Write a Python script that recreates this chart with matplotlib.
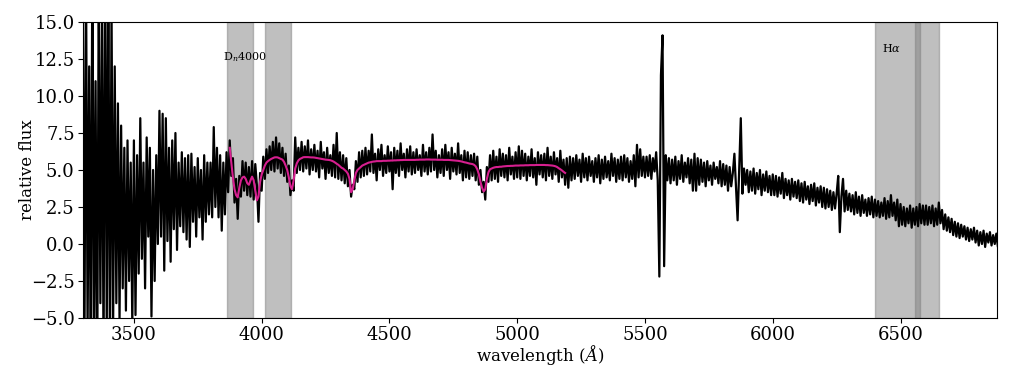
import numpy as np
import matplotlib
matplotlib.use("Agg")
import matplotlib.pyplot as plt

# ---- data ----
wave_start = 3300.0
wave_step = 6.25

flux_uv = [  # 3300-3700
    16, -8, 19, -6, 12, -9, 20, -7, 11, -10, 18, -4, 15, -8, 21, -6,
    18, -8, 16, -5.5, 12, -4, 9.5, -5.2, 8, -3, 6.5, -4.5, 7, -2.5, 5.5, -5.5,
    7, -4.8, 6, -2, 8.5, -1, 5.5, -3, 7.2, 0.5, 6.5, -4.9, 5, -2.5, 6.0, 0.0,
    9.0, 0.5, 8.8, -1.8, 8.5, 0.2, 6.5, -1.2, 7.0, 1.0, 7.5, -0.4, 5.5, 1.2, 6.2, 0.8,
]
flux_dn4000 = [  # 3700-4200
    5.8, 0.3, 6.0, -0.2, 6.1, 1.5, 5.2, 0.5, 5.8, 1.8, 5.0, 0.3, 6.0, 1.5, 5.5, 2.0,
    5.5, 1.8, 7.9, 2.5, 6.5, 1.8, 6.0, 0.9, 5.5, 2.0, 6.2, 3.5, 7.0, 4.6, 5.8, 2.8,
    4.4, 1.7, 4.6, 3.2, 5.6, 3.6, 5.5, 3.3, 5.2, 3.2, 5.6, 3.0, 5.4, 4.0, 1.5, 4.8,
    3.6, 5.9, 4.4, 6.4, 4.8, 6.6, 5.0, 6.9, 4.9, 7.2, 5.1, 6.8, 4.8, 6.5, 4.6, 6.1,
    4.2, 5.3, 3.3, 4.3, 3.6, 7.2, 4.8, 6.5, 5.0, 6.9, 4.9, 6.6, 5.1, 7.0, 4.7, 6.4,
]
flux_blue = [  # 4200-5200
    5.0, 6.7, 4.9, 6.3, 4.5, 6.9, 5.1, 6.2, 4.4, 6.5, 4.8, 6.0, 4.6, 6.7, 4.5, 7.5,
    4.4, 6.2, 4.3, 6.0, 4.1, 5.8, 3.9, 5.0, 3.2, 4.0, 3.7, 5.6, 4.2, 6.2, 4.5, 6.3,
    4.6, 6.5, 4.7, 6.3, 4.9, 7.4, 4.8, 6.1, 4.3, 6.4, 5.0, 6.7, 4.6, 6.0, 4.8, 6.6,
    4.9, 6.2, 3.7, 6.5, 4.8, 6.3, 4.6, 6.8, 5.0, 6.1, 4.5, 6.4, 4.9, 6.6, 4.7, 6.2,
    4.8, 6.4, 5.0, 6.0, 4.6, 6.7, 4.9, 6.2, 4.7, 6.5, 4.9, 7.4, 5.0, 6.3, 4.5, 6.0,
    4.8, 6.4, 4.6, 6.7, 5.0, 6.2, 4.4, 6.5, 4.9, 6.1, 4.7, 6.8, 4.8, 6.0, 4.3, 6.3,
    4.5, 6.2, 4.4, 6.0, 4.6, 6.1, 4.3, 5.9, 4.0, 5.0, 3.5, 4.2, 3.0, 5.2, 4.2, 6.0,
    4.3, 6.3, 4.4, 5.9, 4.2, 6.4, 4.6, 6.1, 4.5, 6.0, 4.3, 6.5, 4.7, 5.9, 4.4, 6.2,
    4.5, 6.6, 4.4, 6.3, 4.6, 6.1, 4.3, 5.9, 4.6, 6.4, 4.5, 5.8, 4.0, 6.2, 4.7, 6.0,
    4.5, 6.1, 4.3, 6.5, 4.6, 5.9, 4.4, 6.2, 4.7, 5.8, 4.2, 6.3, 4.5, 5.7, 4.0, 5.8,
]
flux_green = [  # 5200-6000
    3.8, 5.9, 4.3, 5.8, 4.4, 6.0, 4.6, 5.7, 4.2, 6.1, 4.5, 5.8, 4.3, 5.9, 4.6, 5.6,
    4.2, 5.8, 4.5, 6.0, 4.1, 5.7, 4.4, 5.9, 4.5, 5.6, 4.3, 6.1, 4.6, 5.8, 4.2, 5.7,
    4.4, 5.9, 4.3, 6.0, 4.5, 5.8, 4.2, 5.6, 4.4, 6.0, 3.9, 6.7, 4.5, 6.4, 4.6, 5.9,
    4.5, 5.9, 4.6, 6.0, 4.4, 5.8, 4.9, 6.2, 4.3, -2.2, 11.4, 14.1, -1.5, 6.0, 4.3, 5.8,
    4.1, 5.7, 4.3, 5.9, 4.0, 5.6, 4.4, 6.0, 4.2, 5.5, 4.5, 5.8, 4.1, 5.7, 3.6, 6.1,
    3.6, 5.8, 4.0, 5.7, 4.2, 5.5, 3.9, 5.6, 4.3, 5.3, 4.0, 5.5, 4.4, 5.2, 4.1, 5.6,
    3.9, 5.4, 4.0, 5.3, 3.6, 5.2, 3.9, 4.8, 6.1, 3.8, 1.6, 5.0, 8.5, 3.4, 5.1, 4.0,
    5.0, 3.5, 4.9, 3.6, 5.1, 3.4, 4.8, 3.7, 5.0, 3.3, 4.7, 3.6, 4.9, 3.5, 4.6, 3.3,
]
flux_red = [  # 6000-6900
    4.7, 3.3, 4.6, 3.2, 4.5, 3.4, 4.8, 3.1, 4.4, 3.3, 4.3, 3.0, 4.4, 3.2, 4.2, 3.1,
    4.3, 2.9, 4.1, 2.8, 4.2, 3.0, 3.9, 2.7, 4.0, 2.9, 4.1, 2.6, 3.8, 2.8, 3.9, 2.5,
    3.8, 2.4, 3.7, 2.5, 3.6, 2.3, 3.5, 2.4, 3.4, 4.6, 0.8, 3.2, 4.4, 2.2, 3.6, 2.3,
    3.4, 2.2, 3.3, 2.0, 3.5, 2.1, 3.2, 1.9, 3.3, 2.1, 3.0, 1.9, 3.1, 2.0, 3.2, 1.8,
    3.0, 1.9, 2.9, 1.8, 2.8, 1.9, 3.1, 1.7, 2.9, 1.8, 3.3, 1.9, 2.8, 1.6, 3.0, 1.2,
    2.7, 1.3, 2.5, 1.2, 2.4, 1.4, 2.6, 1.1, 2.4, 1.3, 2.5, 1.2, 2.7, 1.4, 2.6, 1.3,
    2.6, 1.3, 2.5, 1.4, 2.6, 1.2, 2.4, 1.3, 2.8, 1.4, 2.3, 1.0, 2.0, 0.9, 1.8, 0.8,
    1.7, 0.6, 1.5, 0.5, 1.4, 0.4, 1.3, 0.5, 1.2, 0.3, 1.1, 0.2, 1.0, 0.3, 1.1, 0.1,
    0.9, -0.1, 0.8, 0.0, 0.9, -0.2, 0.7, 0.1, 0.8, -0.1, 0.6, 0.0, 0.7, -0.2, 0.5, 0.1,
]

model_start = 3875.0
model_flux = [
    6.5, 5.5, 4.5, 3.7, 3.3, 3.15, 3.8, 4.3, 4.5, 4.55, 4.4, 4.1, 4.0, 4.3, 4.55, 4.3, 3.6, 2.95, 3.2, 4.2,
    4.7, 5.0, 5.3, 5.5, 5.6, 5.68, 5.75, 5.8, 5.85, 5.86, 5.85, 5.8, 5.75, 5.7, 5.55, 5.3,
    5.0, 4.5, 3.9, 3.7, 4.3, 5.1, 5.45, 5.65, 5.75, 5.8, 5.86, 5.87, 5.87, 5.87, 5.86, 5.85,
    5.85, 5.84, 5.82, 5.8, 5.78, 5.76, 5.74, 5.72, 5.7, 5.69, 5.68, 5.66, 5.62, 5.57, 5.5, 5.42,
    5.35, 5.25, 5.15, 5.1, 5.0, 4.9, 4.75, 4.4, 3.5, 3.7, 4.3, 4.8, 5.0, 5.1, 5.2, 5.3,
    5.35, 5.4, 5.45, 5.5, 5.52, 5.55, 5.57, 5.58, 5.6, 5.6, 5.6, 5.6, 5.62, 5.62, 5.62, 5.63,
    5.63, 5.64, 5.64, 5.65, 5.65, 5.66, 5.66, 5.67, 5.67, 5.68, 5.68, 5.68, 5.68, 5.68, 5.68, 5.68,
    5.68, 5.69, 5.69, 5.7, 5.7, 5.7, 5.7, 5.71, 5.71, 5.71, 5.7, 5.7, 5.7, 5.7, 5.69, 5.69,
    5.69, 5.69, 5.68, 5.68, 5.68, 5.68, 5.67, 5.66, 5.65, 5.64, 5.63, 5.62, 5.6, 5.58, 5.55, 5.52,
    5.5, 5.47, 5.44, 5.42, 5.4, 5.35, 5.25, 5.05, 4.7, 4.2, 3.8, 3.55, 3.7, 4.4, 4.85, 5.05,
    5.1, 5.15, 5.18, 5.2, 5.2, 5.22, 5.22, 5.24, 5.25, 5.26, 5.27, 5.27, 5.28, 5.28, 5.29, 5.3,
    5.3, 5.3, 5.31, 5.31, 5.31, 5.32, 5.32, 5.32, 5.33, 5.33, 5.33, 5.33, 5.34, 5.34, 5.34, 5.34,
    5.34, 5.34, 5.33, 5.33, 5.32, 5.31, 5.3, 5.28, 5.25, 5.2, 5.12, 5.05, 4.97, 4.88, 4.8,
]

dn4000_bands = [(3866, 3965), (4014, 4113)]
halpha_bands = [(6402, 6652), (6558, 6578)]
xlim = (3301, 6876)
ylim = (-5, 15)

# ---- figure ----
plt.rcParams['font.family'] = ['DejaVu Serif']
plt.rcParams['mathtext.fontset'] = 'dejavuserif'

flux = np.array(flux_uv + flux_dn4000 + flux_blue + flux_green + flux_red, dtype=float)
wave = wave_start + wave_step * np.arange(len(flux))
mflux = np.array(model_flux, dtype=float)
mwave = model_start + wave_step * np.arange(len(mflux))

fig, ax = plt.subplots(figsize=(10.19, 3.71), dpi=100)
fig.subplots_adjust(left=0.0815, right=0.978, top=0.9407, bottom=0.1429)

for lo, hi in dn4000_bands + halpha_bands:
    ax.axvspan(lo, hi, color='gray', alpha=0.5)

ax.plot(wave, flux, color='black', lw=1.6)
ax.plot(mwave, mflux, color='#d61f8f', lw=1.5)

ax.text(3850, 12.4, r'D$_n$4000', fontsize=8)
ax.text(6428, 13.0, r'H$\alpha$', fontsize=8)

ax.set_xlim(*xlim)
ax.set_ylim(*ylim)
ax.set_yticks(np.arange(-5, 15.1, 2.5))
ax.set_xticks([3500, 4000, 4500, 5000, 5500, 6000, 6500])
ax.tick_params(labelsize=13, pad=2.5)
ax.set_xlabel(r'wavelength ($\AA$)', fontsize=12)
ax.set_ylabel('relative flux', fontsize=12)
ax.xaxis.set_label_coords(0.5, -0.086)
ax.yaxis.set_label_coords(-0.052, 0.5)

fig.savefig('out.png', dpi=100)
